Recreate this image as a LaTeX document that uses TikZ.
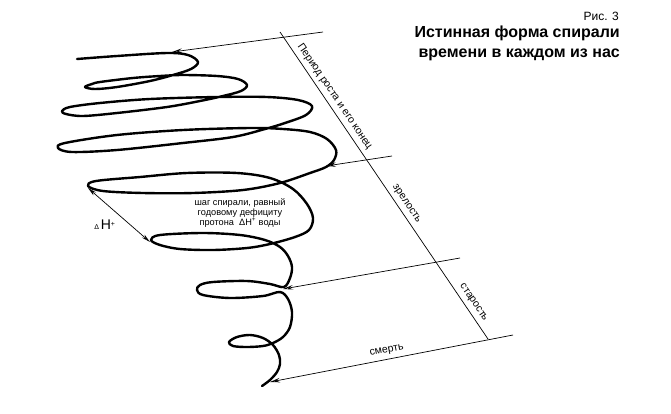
\documentclass[tikz,border=0pt]{standalone}
\usepackage{fontspec}
\setmainfont{Liberation Sans}
\usetikzlibrary{arrows.meta}

\begin{document}
\begin{tikzpicture}[x=1pt,y=1pt]
\tikzstyle{every node}+=[inner sep=0pt]
\tikzstyle{spiral}=[black, line width=2.4pt, line cap=round, line join=round]
\tikzstyle{thinline}=[black, line width=0.7pt]
\tikzstyle{pointer}=[thinline, -{Stealth[open,length=10pt,width=4.5pt,inset=3.5pt]}]
\tikzstyle{twopointer}=[thinline, {Stealth[open,length=9pt,width=4pt,inset=3pt]}-{Stealth[open,length=9pt,width=4pt,inset=3pt]}]
\tikzstyle{agelabel}=[font=\fontsize{10.5}{12}\selectfont, sloped, above=4pt]
\useasboundingbox (0,0) rectangle (671,-413);
\node (fignum) [anchor=base east, font=\fontsize{12}{14}\selectfont] at (619,-20) {Рис. 3};
\node (titleA) [anchor=base east, font=\bfseries\fontsize{16}{20}\selectfont] at (620,-37) {Истинная форма спирали};
\node (titleB) [anchor=base east, font=\bfseries\fontsize{16}{20}\selectfont] at (620,-57) {времени в каждом из нас};
\coordinate (diagtop) at (280,-32);
\coordinate (diagend) at (488,-339);
\coordinate (growend) at (323,-32);
\coordinate (growtip) at (172,-52);
\coordinate (maturend) at (392,-156);
\coordinate (maturtip) at (326,-166);
\coordinate (oldend) at (460,-258);
\coordinate (oldtip) at (283,-289);
\coordinate (deathend) at (513,-335);
\coordinate (deathtip) at (270,-382);
\coordinate (steptop) at (88,-188);
\coordinate (stepbot) at (150,-242);
\draw [spiral] plot [smooth, tension=0.55] coordinates {(77,-59) (117,-56) (167,-53) (188,-55) (198,-62) (191,-69) (173,-75) (150,-81) (117,-87) (95,-89) (85,-87) (92,-84) (100,-82) (133,-78) (160,-76) (183,-75) (217,-76) (238,-79) (247,-85) (241,-91) (223,-96) (200,-101) (167,-107) (117,-113) (83,-116) (66,-114) (62,-111) (70,-107) (100,-103) (150,-99) (217,-97) (267,-97) (298,-100) (312,-106) (306,-115) (285,-123) (265,-129) (233,-137) (183,-143) (117,-150) (72,-152) (58,-148) (65,-143) (117,-135) (183,-130) (250,-128) (283,-129) (310,-132) (327,-139) (336,-150) (334,-160) (326,-167) (310,-173) (280,-183) (243,-190) (193,-193) (143,-193) (103,-191) (88,-186) (96,-181) (140,-177) (187,-173) (237,-173) (270,-178) (293,-189) (307,-204) (313,-218) (309,-230) (295,-237) (270,-244) (247,-248) (213,-250) (180,-249) (160,-245) (151,-240) (160,-235) (203,-233) (240,-235) (265,-240) (280,-247) (288,-256) (292,-267) (290,-278) (284,-287) (270,-284) (247,-281) (213,-282) (200,-285) (197,-290) (203,-295) (230,-298) (263,-296) (280,-292) (288,-299) (292,-312) (290,-327) (283,-337) (273,-343) (263,-346) (247,-347) (233,-346) (229,-342) (237,-337) (250,-335) (263,-338) (273,-345) (279,-355) (280,-364) (277,-372) (270,-380) (262,-386)};
\draw [thinline] (diagtop) -- (diagend)
  node [pos=0.227, agelabel] (growlabel) {Период роста и его конец}
  node [pos=0.575, agelabel] (maturlabel) {зрелость}
  node [pos=0.897, agelabel] (oldlabel) {старость};
\draw [pointer] (growend) -- (growtip);
\draw [pointer] (maturend) -- (maturtip);
\draw [pointer] (oldend) -- (oldtip);
\draw [pointer] (deathend) -- (deathtip)
  node [pos=0.513, sloped, above=4pt, font=\fontsize{10.5}{12}\selectfont] (deathlabel) {смерть};
\draw [twopointer] (steptop) -- (stepbot);
\node (dhlabel) at (105,-225) {{\fontsize{7}{8}\selectfont Δ}\,{\fontsize{14}{16}\selectfont H}\textsuperscript{+}};
\node (pitch) [align=center, font=\fontsize{9.2}{10}\selectfont] at (240,-213) {шаг спирали, равный\\годовому дефициту\\протона \ ΔH\textsuperscript{+} воды};
\end{tikzpicture}
\end{document}
